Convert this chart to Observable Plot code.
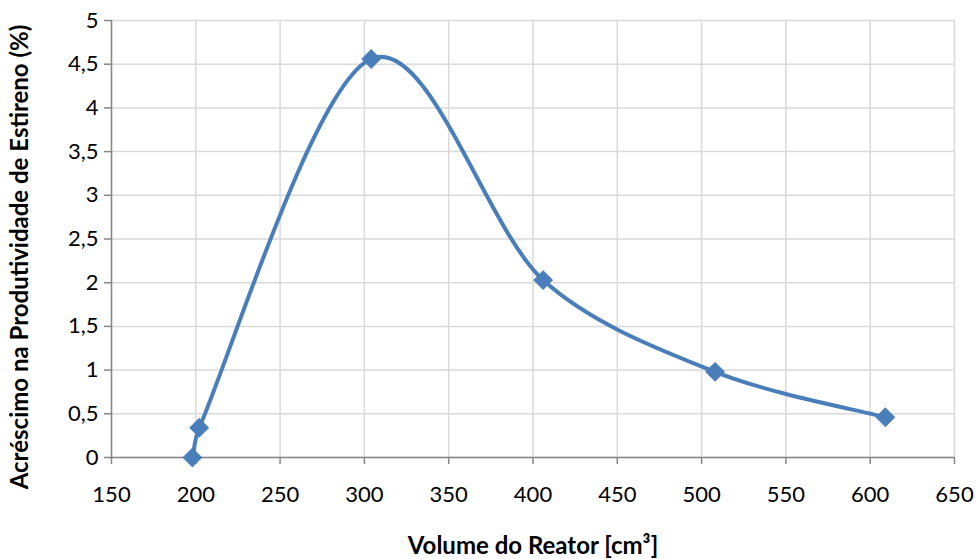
<!DOCTYPE html>
<html>
<head>
<meta charset="utf-8">
<script src="https://cdn.jsdelivr.net/npm/d3@7"></script>
<script src="https://cdn.jsdelivr.net/npm/@observablehq/plot@0.6"></script>
<style>
  html, body { margin: 0; padding: 0; background: #fff; }
  #chart svg { display: block; }
</style>
</head>
<body>
<div id="chart"></div>
<script>
const volume = [198, 202, 304, 406, 508, 609];
const increase = [0, 0.34, 4.56, 2.03, 0.98, 0.46];
const xTicks = [150, 200, 250, 300, 350, 400, 450, 500, 550, 600, 650];
const yTicks = [0, 0.5, 1, 1.5, 2, 2.5, 3, 3.5, 4, 4.5, 5];
const xLabel = "Volume do Reator [cm³]";
const yLabel = "Acréscimo na Produtividade de Estireno (%)";

const data = volume.map((v, i) => ({v, p: increase[i]}));
const fmt = d => String(d).replace(".", ",");
const blue = "#4a7ebb";

// Spreadsheet-style smoothed line: cardinal Bezier with control arms capped by segment length
function smoothCurve(context) {
  let pts;
  const clamp = (t, max) => {
    const l = Math.hypot(t[0], t[1]);
    return l > max && l > 0 ? [t[0] * max / l, t[1] * max / l] : t;
  };
  return {
    areaStart() {}, areaEnd() {},
    lineStart() { pts = []; },
    point(x, y) { pts.push([+x, +y]); },
    lineEnd() {
      const n = pts.length;
      if (!n) return;
      context.moveTo(pts[0][0], pts[0][1]);
      for (let i = 0; i < n - 1; i++) {
        const p0 = pts[Math.max(0, i - 1)], p1 = pts[i], p2 = pts[i + 1], p3 = pts[Math.min(n - 1, i + 2)];
        const len = Math.hypot(p2[0] - p1[0], p2[1] - p1[1]);
        const t1 = clamp([(p2[0] - p0[0]) / 6, (p2[1] - p0[1]) / 6], len / 3);
        const t2 = clamp([(p3[0] - p1[0]) / 6, (p3[1] - p1[1]) / 6], len / 3);
        context.bezierCurveTo(p1[0] + t1[0], p1[1] + t1[1], p2[0] - t2[0], p2[1] - t2[1], p2[0], p2[1]);
      }
    }
  };
}

const chart = Plot.plot({
  width: 980,
  height: 559,
  marginLeft: 111,
  marginRight: 26,
  marginTop: 20,
  marginBottom: 102,
  style: {fontFamily: "Lato, 'Open Sans', sans-serif", background: "#fff", color: "#000"},
  x: {domain: [150, 650]},
  y: {domain: [0, 5]},
  marks: [
    Plot.gridX(xTicks, {stroke: "#d9d9d9", strokeOpacity: 1, strokeWidth: 1.5}),
    Plot.gridY(yTicks, {stroke: "#d9d9d9", strokeOpacity: 1, strokeWidth: 1.5}),
    Plot.ruleX([150], {stroke: "#868686", strokeWidth: 1.5}),
    Plot.ruleY([0], {stroke: "#868686", strokeWidth: 1.5}),
    Plot.axisX(xTicks, {tickSize: 7, tickPadding: 22, stroke: "#868686", strokeWidth: 1.5, fontSize: 22, fill: "#000", label: null, tickFormat: d => String(d)}),
    Plot.axisY(yTicks, {tickSize: 7, tickPadding: 6, stroke: "#868686", strokeWidth: 1.5, fontSize: 22, fill: "#000", label: null, tickFormat: fmt}),
    Plot.line(data, {x: "v", y: "p", stroke: blue, strokeWidth: 4, curve: smoothCurve}),
    Plot.dot(data, {x: "v", y: "p", symbol: "diamond2", r: 8.5, fill: blue, stroke: blue, strokeWidth: 1}),
    Plot.text([xLabel], {frameAnchor: "bottom", dy: 96, fontSize: 24, fontWeight: "bold", fill: "#000"}),
    Plot.text([yLabel], {frameAnchor: "left", textAnchor: "middle", dx: -91, dy: 18, rotate: -90, fontSize: 24, fontWeight: "bold", fill: "#000"})
  ]
});
document.getElementById("chart").appendChild(chart);
</script>
</body>
</html>
